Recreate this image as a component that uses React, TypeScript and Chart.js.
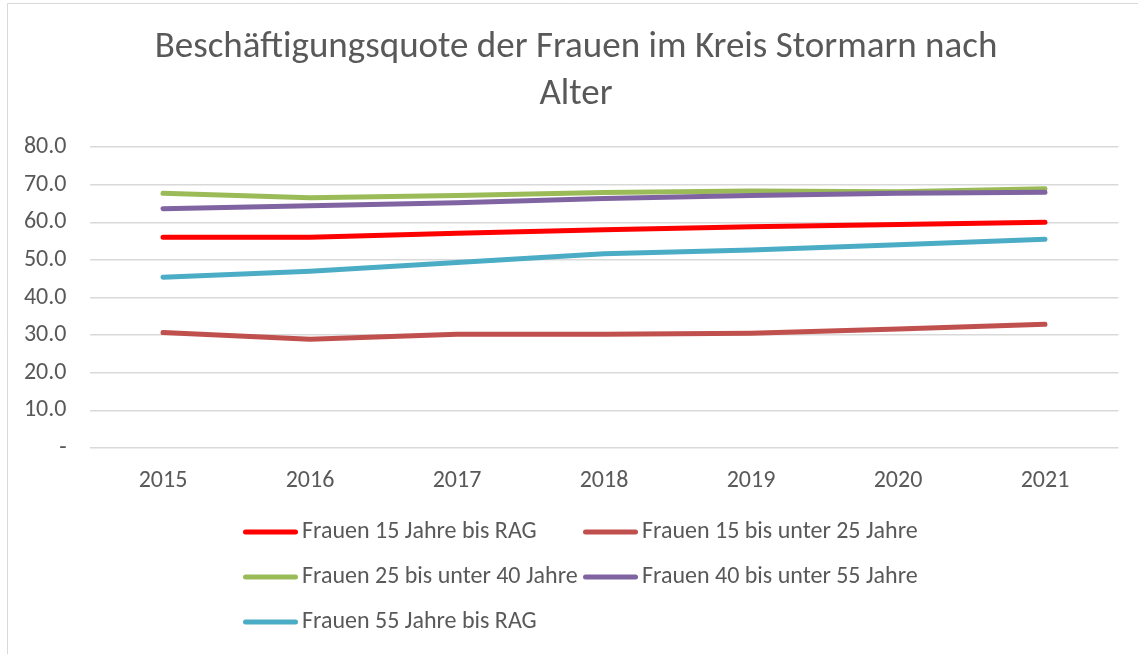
import React, { useEffect, useRef } from "react";
import { Chart, registerables } from "chart.js";

Chart.register(...registerables);

const categories = ["2015", "2016", "2017", "2018", "2019", "2020", "2021"];
const titleLines = ["Beschäftigungsquote der Frauen im Kreis Stormarn nach", "Alter"];
const seriesLabels = [
  "Frauen 15 Jahre bis RAG",
  "Frauen 15 bis unter 25 Jahre",
  "Frauen 25 bis unter 40 Jahre",
  "Frauen 40 bis unter 55 Jahre",
  "Frauen 55 Jahre bis RAG",
];
const frauen15BisRAG = [56.0, 56.0, 57.1, 58.0, 58.8, 59.4, 60.0];
const frauen15Bis25 = [30.7, 28.9, 30.2, 30.2, 30.5, 31.6, 32.9];
const frauen25Bis40 = [67.7, 66.5, 67.1, 67.9, 68.3, 68.1, 68.9];
const frauen40Bis55 = [63.6, 64.4, 65.2, 66.3, 67.1, 67.7, 68.0];
const frauen55BisRAG = [45.4, 47.0, 49.3, 51.6, 52.6, 54.0, 55.5];
const seriesColors = ["#FF0000", "#C0504D", "#9BBB59", "#8064A2", "#4BACC6"];
const yMin = 0;
const yMax = 80;
const yStep = 10;

const FONT = "Carlito, Lato, 'Open Sans', sans-serif";
const TEXT = "#595959";

const framePlugin = {
  id: "frame",
  beforeDraw(chart: any) {
    const ctx = chart.ctx;
    ctx.save();
    ctx.fillStyle = "#ffffff";
    ctx.fillRect(0, 0, chart.width, chart.height);
    ctx.strokeStyle = "#d9d9d9";
    ctx.lineWidth = 1;
    ctx.beginPath();
    ctx.moveTo(7.5, chart.height + 5);
    ctx.lineTo(7.5, 3.5);
    ctx.lineTo(chart.width + 5, 3.5);
    ctx.stroke();
    ctx.restore();
  },
  afterDraw(chart: any) {
    const ctx = chart.ctx;
    ctx.save();
    // title
    ctx.fillStyle = TEXT;
    ctx.font = `37px ${FONT}`;
    ctx.textAlign = "center";
    ctx.textBaseline = "middle";
    titleLines.forEach((t, i) => ctx.fillText(t, 576, 48 + i * 47));
    // legend
    const cols = [243, 583];
    const rows = [532, 577, 622];
    ctx.font = `24px ${FONT}`;
    ctx.textAlign = "left";
    chart.data.datasets.forEach((ds: any, i: number) => {
      const x = cols[i % 2];
      const y = rows[Math.floor(i / 2)];
      ctx.strokeStyle = ds.borderColor;
      ctx.lineWidth = 5;
      ctx.lineCap = "round";
      ctx.beginPath();
      ctx.moveTo(x + 2.5, y);
      ctx.lineTo(x + 52.5, y);
      ctx.stroke();
      ctx.fillStyle = TEXT;
      ctx.fillText(ds.label, x + 59, y);
    });
    ctx.restore();
  },
};

export default function App() {
  const ref = useRef<HTMLCanvasElement | null>(null);
  useEffect(() => {
    if (!ref.current) return;
    const values = [frauen15BisRAG, frauen15Bis25, frauen25Bis40, frauen40Bis55, frauen55BisRAG];
    const chart = new Chart(ref.current, {
      type: "line",
      data: {
        labels: categories,
        datasets: values.map((v, i) => ({
          label: seriesLabels[i],
          data: v,
          borderColor: seriesColors[i],
          backgroundColor: seriesColors[i],
          borderWidth: 5,
          borderCapStyle: "round",
          borderJoinStyle: "round",
          pointRadius: 0,
          pointHoverRadius: 0,
          tension: 0,
          fill: false,
          order: values.length - 1 - i,
        })),
      },
      options: {
        animation: false,
        responsive: false,
        layout: { padding: { left: 0, right: 19.5, top: 147, bottom: 146 } },
        plugins: {
          legend: { display: false },
          title: { display: false },
          tooltip: { enabled: false },
        },
        scales: {
          x: {
            offset: true,
            grid: { display: false, drawTicks: false },
            border: { display: false },
            ticks: { color: TEXT, font: { family: FONT, size: 24 }, padding: 19 },
            afterFit: (s: any) => {
              s.height = 60;
            },
          },
          y: {
            min: yMin,
            max: yMax,
            ticks: {
              stepSize: yStep,
              color: TEXT,
              font: { family: FONT, size: 24 },
              padding: 23,
              callback: (v: any) => (Number(v) === 0 ? "-" : Number(v).toFixed(1)),
            },
            grid: { color: "#d9d9d9", lineWidth: 1.5, drawTicks: false },
            border: { display: false },
            afterFit: (s: any) => {
              s.width = 89.5;
            },
          },
        },
      },
      plugins: [framePlugin],
    } as any);
    return () => chart.destroy();
  }, []);
  return (
    <div style={{ position: "fixed", left: 0, top: 0, width: 1138, height: 654 }}>
      <canvas ref={ref} width={1138} height={654} style={{ width: 1138, height: 654, display: "block" }} />
    </div>
  );
}
